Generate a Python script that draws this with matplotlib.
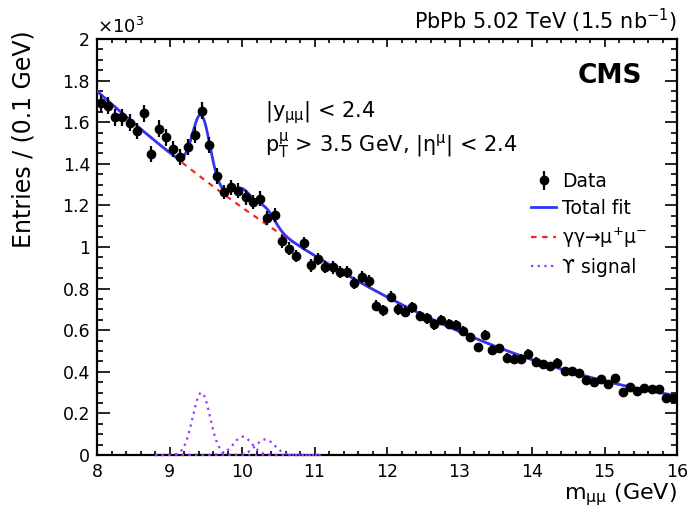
import numpy as np
import matplotlib
matplotlib.use("Agg")
import matplotlib.pyplot as plt
from matplotlib.ticker import MultipleLocator, FuncFormatter
from matplotlib.lines import Line2D

plt.rcParams['font.family'] = ['DejaVu Sans']
plt.rcParams['mathtext.fontset'] = 'dejavusans'

# ---------------- data (entries in units of 10^3 per 0.1 GeV bin) ----------------
bin_low = 8.0
bin_width = 0.1
entries = [1.691, 1.678, 1.623, 1.623, 1.598, 1.559, 1.643, 1.447, 1.569, 1.527,
           1.470, 1.431, 1.479, 1.537, 1.655, 1.489, 1.341, 1.264, 1.287, 1.271,
           1.239, 1.216, 1.232, 1.139, 1.152, 1.027, 0.992, 0.957, 1.018, 0.912,
           0.942, 0.905, 0.902, 0.881, 0.881, 0.825, 0.854, 0.838, 0.718, 0.697,
           0.761, 0.700, 0.688, 0.710, 0.668, 0.657, 0.628, 0.649, 0.630, 0.626,
           0.598, 0.565, 0.517, 0.576, 0.505, 0.513, 0.468, 0.463, 0.463, 0.486,
           0.449, 0.438, 0.426, 0.444, 0.404, 0.402, 0.394, 0.362, 0.352, 0.365,
           0.341, 0.369, 0.303, 0.328, 0.309, 0.322, 0.317, 0.316, 0.273, 0.273]

# background (gamma gamma -> mu mu) fit parameters: cubic in (m - 12)
bkg_pivot = 12.0
bkg_coef = [0.76, -0.183, 0.0161, 0.0]
# Upsilon signal fit parameters (1S, 2S, 3S)
ups_mass = [9.44, 10.01, 10.32]
ups_amp = [0.300, 0.088, 0.075]
ups_sigma = [0.12, 0.127, 0.13]
signal_range = (8.8, 11.1)

x_ticks = [8, 9, 10, 11, 12, 13, 14, 15, 16]
y_ticks = [0, 0.2, 0.4, 0.6, 0.8, 1.0, 1.2, 1.4, 1.6, 1.8, 2.0]

# ---------------- helpers ----------------
entries = np.array(entries)
centers = bin_low + bin_width * (np.arange(len(entries)) + 0.5)
errors = np.sqrt(entries * 1000.0) / 1000.0


def background(m):
    t = m - bkg_pivot
    return sum(c * t ** i for i, c in enumerate(bkg_coef))


def gauss(m, mu, a, s):
    return a * np.exp(-0.5 * ((m - mu) / s) ** 2)


def total(m):
    return background(m) + sum(gauss(m, mu, a, s) for mu, a, s in zip(ups_mass, ups_amp, ups_sigma))


W, H = 692, 515
fig = plt.figure(figsize=(W / 100, H / 100), dpi=100)
ax = fig.add_axes([97 / W, 1 - 455 / H, (677 - 97) / W, (455 - 39) / H])

mgrid = np.linspace(8, 16, 801)
sgrid = np.linspace(signal_range[0], signal_range[1], 400)

SIG_C = '#9933ff'
BKG_C = '#ff2020'
TOT_C = '#3434f4'

for mu, a, s in zip(ups_mass, ups_amp, ups_sigma):
    ax.plot(sgrid, gauss(sgrid, mu, a, s), color=SIG_C, lw=1.6, ls=(0, (1, 2)),
            zorder=2.6, clip_on=False)
ax.plot(mgrid, background(mgrid), color=BKG_C, lw=1.6, ls=(0, (2.5, 2.5)), zorder=2)
ax.plot(mgrid, total(mgrid), color=TOT_C, lw=2.0, zorder=3)
ax.errorbar(centers, entries, yerr=errors, fmt='o', color='black', ms=6, elinewidth=1.6,
            capsize=0, zorder=4)

ax.set_xlim(8, 16)
ax.set_ylim(0, 2)
ax.set_xticks(x_ticks)
ax.set_yticks(y_ticks)
ax.xaxis.set_minor_locator(MultipleLocator(0.2))
ax.yaxis.set_minor_locator(MultipleLocator(0.05))
ax.yaxis.set_major_formatter(FuncFormatter(lambda v, p: '%g' % round(v, 2)))
ax.xaxis.set_major_formatter(FuncFormatter(lambda v, p: '%g' % v))

for s in ax.spines.values():
    s.set_linewidth(1.6)
ax.tick_params(axis='both', which='both', direction='in', top=True, right=True,
               labelsize=12.5, width=1.2)
ax.tick_params(axis='x', which='major', length=6, pad=6)
ax.tick_params(axis='x', which='minor', length=3)
ax.tick_params(axis='y', which='major', length=9, pad=5)
ax.tick_params(axis='y', which='minor', length=4.5)

# axis titles
fig.text(677 / W, 1 - 499 / H, r'm$_{\mathregular{μμ}}$ (GeV)', ha='right', va='baseline', fontsize=16)
fig.text(24 / W, 1 - 30 / H, 'Entries / (0.1 GeV)', rotation=90, ha='center', va='top', fontsize=17)

# header texts
fig.text(97 / W, 1 - 33 / H, r'$\times$10$^{3}$', ha='left', va='baseline', fontsize=13)
fig.text(677 / W, 1 - 29 / H, r'PbPb 5.02 TeV (1.5 nb$^{-1}$)', ha='right', va='baseline', fontsize=15)
fig.text(642 / W, 1 - 83 / H, 'CMS', ha='right', va='baseline', fontsize=19, fontweight='bold')

# selection texts
fig.text(265 / W, 1 - 117 / H, r'|y$_{\mathregular{μμ}}$| < 2.4', ha='left', va='baseline', fontsize=15)
fig.text(265 / W, 1 - 152 / H, r'p$_{\mathregular{T}}^{\mathregular{μ}}$ > 3.5 GeV, |η$^{\mathregular{μ}}$| < 2.4',
         ha='left', va='baseline', fontsize=15)

# legend
h_data = ax.errorbar([], [], yerr=[], fmt='o', color='black', ms=6, elinewidth=1.6, capsize=0)
h_tot = Line2D([], [], color=TOT_C, lw=2.0)
h_bkg = Line2D([], [], color=BKG_C, lw=1.6, ls=(0, (2.5, 2.5)))
h_sig = Line2D([], [], color=SIG_C, lw=1.6, ls=(0, (1, 2)))
leg = ax.legend([h_data, h_tot, h_bkg, h_sig],
                ['Data', 'Total fit', r'γγ→μ$^{\mathregular{+}}$μ$^{\mathregular{-}}$', 'ϒ signal'],
                loc='upper left', bbox_to_anchor=(531 / W, 1 - 172 / H),
                bbox_transform=fig.transFigure, frameon=False, fontsize=13.5,
                handlelength=1.35, handletextpad=0.3, labelspacing=0.42, borderpad=0,
                borderaxespad=0)

fig.savefig('out.png', dpi=100)
